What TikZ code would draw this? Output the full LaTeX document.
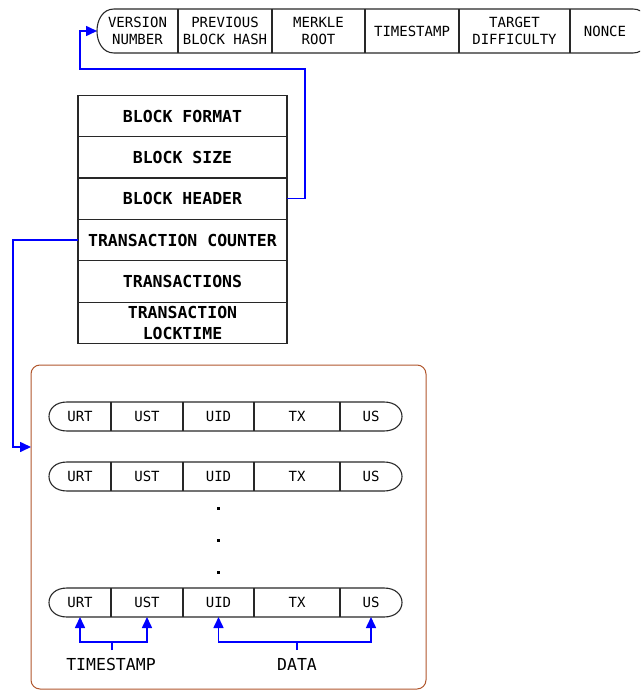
\documentclass[tikz,border=0pt]{standalone}
\usepackage{fontspec}
\newfontfamily\monofont{DejaVu Sans Mono}
\usetikzlibrary{arrows.meta}
\definecolor{framebrown}{RGB}{176,86,44}
\definecolor{linkblue}{RGB}{0,0,255}
\definecolor{edge}{RGB}{40,40,40}
\tikzset{
  cell/.style={inner sep=0pt, outer sep=0pt, align=center, font=\monofont\fontsize{14}{17}\selectfont},
  fieldrow/.style={inner sep=0pt, outer sep=0pt, font=\monofont\fontsize{14}{16}\selectfont},
  layer/.style={draw=edge, line width=1.1pt, minimum width=209pt, minimum height=41.5pt,
    inner sep=0pt, outer sep=0pt, align=center, font=\monofont\bfseries\fontsize{16.5}{21}\selectfont},
  bar/.style={draw=edge, line width=1.1pt},
  link/.style={draw=linkblue, line width=1.6pt, -{Triangle[length=11pt,width=10pt]}},
  caption/.style={font=\monofont\fontsize{16.5}{20}\selectfont, inner sep=0pt}
}
\begin{document}
\begin{tikzpicture}[x=1pt,y=-1pt]
\useasboundingbox (0,0) rectangle (640,690);
\begin{scope}
\clip (0,0) rectangle (640,690);

% ---------- block header fields ----------
\draw[bar] (114,9) -- (633,9) .. controls (655.7,9) and (655.7,53) .. (633,53)
  -- (114,53) .. controls (91.3,53) and (91.3,9) .. (114,9) -- cycle;
\foreach \x in {178,272,365,459,570} \draw[bar] (\x,9) -- (\x,53);
\node[cell, minimum width=81pt] (vn) at (137.5,31) {VERSION\\NUMBER};
\node[cell] (pbh) at (225,31) {PREVIOUS\\BLOCK HASH};
\node[cell] (mr) at (318.5,31) {MERKLE\\ROOT};
\node[cell] (ts) at (412,31) {TIMESTAMP};
\node[cell] (td) at (514.5,31) {TARGET\\DIFFICULTY};
\node[cell] (nc) at (605,31) {NONCE};

% ---------- block layout ----------
\node[layer] (bf) at (182.5,116) {BLOCK FORMAT};
\node[layer] (bs) at (182.5,157.5) {BLOCK SIZE};
\node[layer] (bh) at (182.5,198.5) {BLOCK HEADER};
\node[layer] (tc) at (182.5,240) {TRANSACTION COUNTER};
\node[layer] (tr) at (182.5,281.5) {TRANSACTIONS};
\node[layer] (lt) at (182.5,323) {TRANSACTION\\LOCKTIME};

% ---------- transaction container ----------
\draw[framebrown, line width=1pt, rounded corners=9pt] (31,365) rectangle (426,689);
\coordinate (txin) at (31,447);

% field rows
\foreach \r/\y in {1/416.5, 2/476.5, 3/602.5} {
  \draw[bar] (67,\y-14.5) -- (384,\y-14.5) .. controls (408,\y-14.5) and (408,\y+14.5) .. (384,\y+14.5)
    -- (67,\y+14.5) .. controls (43,\y+14.5) and (43,\y-14.5) .. (67,\y-14.5) -- cycle;
  \foreach \x in {111,183,254,340} \draw[bar] (\x,\y-14.5) -- (\x,\y+14.5);
  \node[fieldrow, minimum height=29pt] (r\r c1) at (80,\y) {URT};
  \node[fieldrow, minimum height=29pt] (r\r c2) at (147,\y) {UST};
  \node[fieldrow, minimum height=29pt] (r\r c3) at (218.5,\y) {UID};
  \node[fieldrow, minimum height=29pt] (r\r c4) at (297,\y) {TX};
  \node[fieldrow, minimum height=29pt] (r\r c5) at (371,\y) {US};
}
% ellipsis between the rows
\foreach \y in {508,540,572} \fill (216.5,\y-1.5) rectangle (219.5,\y+1.5);

% ---------- grouping of the last row ----------
\node[caption] (tslabel) at (111,664) {TIMESTAMP};
\node[caption] (datalabel) at (297,664) {DATA};
\coordinate (tsj) at (112,642);
\coordinate (tsfoot) at (112,650);
\coordinate (dj) at (297,642);
\coordinate (dfoot) at (297,650);
\draw[link] (tsfoot) -- (tsj) -| (r3c1.south);
\draw[link] (tsj) -| (r3c2.south);
\draw[link] (dfoot) -- (dj) -| (r3c5.south);
\draw[link] (dj) -| (r3c3.south);

% ---------- connectors ----------
\coordinate (hj1) at (305,69);
\coordinate (hj2) at (80,69);
\draw[link] (bh.east) -| (hj1) -- (hj2) |- (vn.west);
\coordinate (cj) at (13,447);
\draw[link] (tc.west) -| (cj) -- (txin);
\end{scope}
\end{tikzpicture}
\end{document}
